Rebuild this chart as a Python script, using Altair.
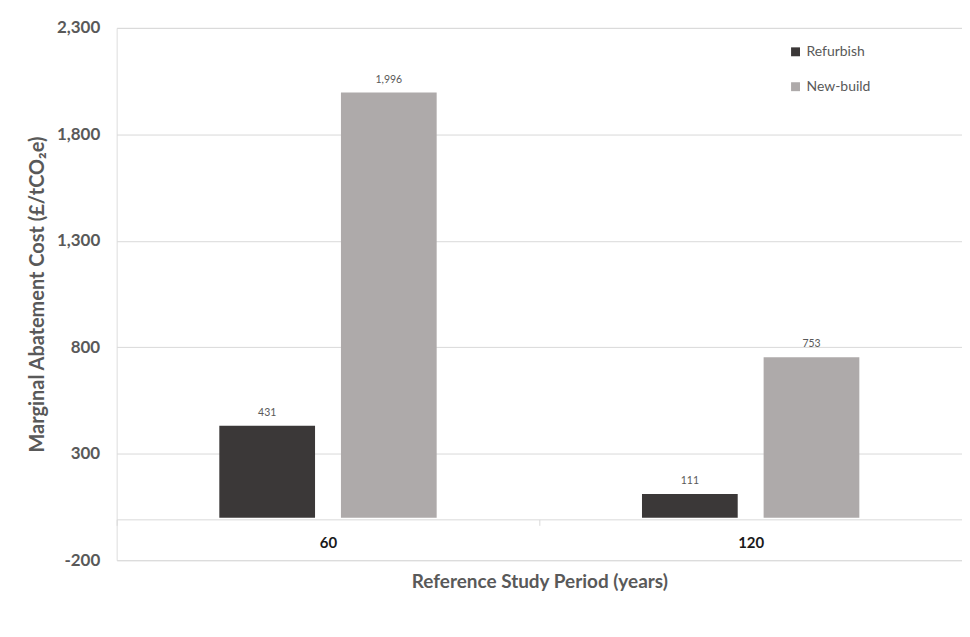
import altair as alt
import pandas as pd

periods = ["60", "120"]
series = ["Refurbish", "New-build"]
refurbish = [431, 111]
new_build = [1996, 753]
colors = ["#3B3838", "#AEAAAA"]
y_ticks = [-200, 300, 800, 1300, 1800, 2300]

rows = []
for i, p in enumerate(periods):
    rows.append({"period": p, "type": "Refurbish", "value": refurbish[i]})
    rows.append({"period": p, "type": "New-build", "value": new_build[i]})
df = pd.DataFrame(rows)

FONT = "Lato"
GRAY = "#595959"

x = alt.X(
    "period:N",
    sort=periods,
    scale=alt.Scale(paddingInner=0, paddingOuter=0),
    axis=alt.Axis(
        title="Reference Study Period (years)",
        labelAngle=0,
        offset=-41,
        domainColor="#D9D9D9",
        tickColor="#D9D9D9",
        tickBand="extent",
        tickSize=6,
        labelPadding=10,
        labelFontSize=15,
        labelFontWeight="bold",
        labelColor="#1a1a1a",
        titleFontSize=19,
        titleFontWeight="bold",
        titleColor=GRAY,
        titlePadding=22,
        labelFont=FONT,
        titleFont=FONT,
    ),
)
xoff = alt.XOffset(
    "type:N",
    sort=series,
    scale=alt.Scale(domain=series, paddingInner=0.213, paddingOuter=0.844),
)
y = alt.Y(
    "value:Q",
    scale=alt.Scale(domain=[-200, 2300], nice=False, zero=False),
    axis=alt.Axis(
        title="Marginal Abatement Cost (£/tCO₂e)",
        values=y_ticks,
        labelExpr="replace(format(datum.value, ',.0f'), '\u2212', '-')",
        domain=False,
        ticks=False,
        gridColor="#D9D9D9",
        labelPadding=17,
        labelFontSize=17,
        labelFontWeight="bold",
        labelColor=GRAY,
        titleFontSize=20,
        titleFontWeight="bold",
        titleColor=GRAY,
        titlePadding=9,
        labelFont=FONT,
        titleFont=FONT,
    ),
)

bars = alt.Chart(df).mark_bar().encode(
    x=x,
    xOffset=xoff,
    y=y,
    color=alt.Color(
        "type:N",
        sort=series,
        scale=alt.Scale(domain=series, range=colors),
        legend=alt.Legend(
            title=None,
            orient="none",
            legendX=674,
            legendY=17,
            symbolType="square",
            symbolSize=80,
            symbolStrokeWidth=0,
            rowPadding=21,
            labelFontSize=14,
            labelColor=GRAY,
            labelFont=FONT,
        ),
    ),
)

labels = alt.Chart(df).mark_text(
    dy=-13, fontSize=10.5, color=GRAY, font=FONT
).encode(
    x=x,
    xOffset=xoff,
    y=y,
    text=alt.Text("value:Q", format=","),
)

chart = (
    alt.layer(bars, labels)
    .properties(
        width=848,
        height=534,
        autosize=alt.AutoSizeParams(type="none"),
        padding={"left": 109, "top": 19, "right": 0, "bottom": 50},
    )
    .configure_view(stroke=None)
    .configure(font=FONT)
)

chart.save("out.html", embed_options={"renderer": "svg", "actions": False})
